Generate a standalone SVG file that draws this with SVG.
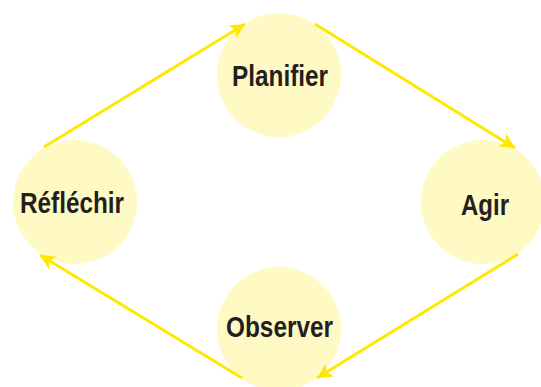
<svg xmlns="http://www.w3.org/2000/svg" width="541" height="387" viewBox="0 0 541 387">
<style>
.node{fill:#FFF9C4}
.lbl{font-family:"Liberation Sans",Arial,sans-serif;font-weight:bold;font-size:29px;fill:#231F20}
.edge{stroke:#FFE800;stroke-width:3;fill:none;marker-end:url(#ah)}
</style>
<defs>
<marker id="ah" viewBox="0 0 10 10" refX="10" refY="5" markerWidth="5.5" markerHeight="5" markerUnits="strokeWidth" orient="auto">
<path d="M0,0 L10,5 L0,10 L2.5,5 Z" fill="#FFE800"/>
</marker>
</defs>
<rect width="541" height="387" fill="#FFFFFF"/>
<g id="planifier"><circle class="node" cx="279" cy="75" r="62"/><text class="lbl" x="232" y="86" textLength="96" lengthAdjust="spacingAndGlyphs">Planifier</text></g>
<g id="agir"><circle class="node" cx="483" cy="202" r="62"/><text class="lbl" x="461" y="215" textLength="48" lengthAdjust="spacingAndGlyphs">Agir</text></g>
<g id="observer"><circle class="node" cx="279" cy="329" r="62"/><text class="lbl" x="226" y="337" textLength="107" lengthAdjust="spacingAndGlyphs">Observer</text></g>
<g id="reflechir"><circle class="node" cx="75" cy="202" r="62"/><text class="lbl" x="20" y="213" textLength="104" lengthAdjust="spacingAndGlyphs">Réfléchir</text></g>
<g id="connectors">
<line class="edge" x1="44" y1="147" x2="245" y2="24"/>
<line class="edge" x1="315" y1="24" x2="515" y2="148"/>
<line class="edge" x1="518" y1="254" x2="317" y2="378"/>
<line class="edge" x1="242" y1="378" x2="40" y2="255"/>
</g>
</svg>
